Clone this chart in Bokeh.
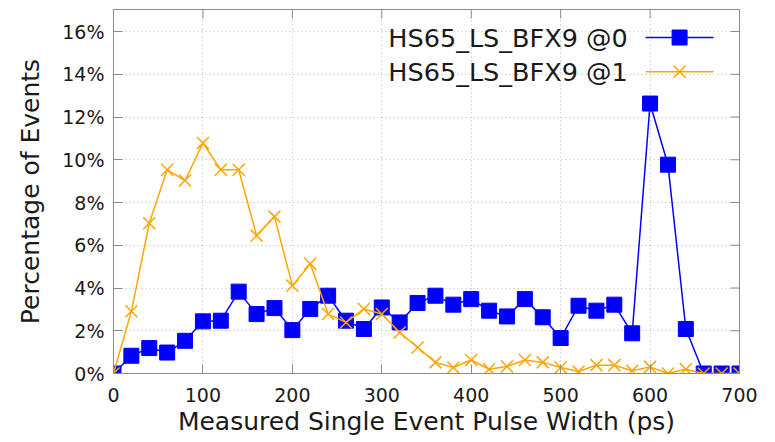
import math
from bokeh.plotting import figure
from bokeh.models import Range1d, FixedTicker, PrintfTickFormatter, Label
from bokeh.embed import file_html
from bokeh.resources import INLINE

# Pulse width bins (ps)
pulse_width = [0, 20, 40, 60, 80, 100, 120, 140, 160, 180, 200, 220, 240, 260, 280,
               300, 320, 340, 360, 380, 400, 420, 440, 460, 480, 500, 520, 540, 560,
               580, 600, 620, 640, 660, 680, 700]

# Percentage of events per bin, input @0
pct_at0 = [0.0, 0.83, 1.19, 0.98, 1.53, 2.44, 2.47, 3.83, 2.78, 3.06, 2.03, 3.02, 3.64,
           2.47, 2.08, 3.09, 2.39, 3.30, 3.64, 3.22, 3.48, 2.94, 2.67, 3.48, 2.63, 1.66,
           3.17, 2.94, 3.22, 1.88, 12.63, 9.77, 2.08, 0.0, 0.0, 0.0]

# Percentage of events per bin, input @1
pct_at1 = [0.0, 2.91, 7.03, 9.53, 9.03, 10.78, 9.53, 9.53, 6.45, 7.34, 4.11, 5.13, 2.78,
           2.39, 3.02, 2.78, 1.92, 1.22, 0.52, 0.28, 0.63, 0.20, 0.33, 0.63, 0.52, 0.28,
           0.09, 0.39, 0.39, 0.13, 0.31, 0.0, 0.20, 0.0, 0.0, 0.0]

series_names = ["HS65_LS_BFX9 @0", "HS65_LS_BFX9 @1"]
x_ticks = [0, 100, 200, 300, 400, 500, 600, 700]
y_ticks = [0, 2, 4, 6, 8, 10, 12, 14, 16]

X_MAX, Y_MAX = 700, 17.03
BLUE = "#0000ff"
ORANGE = "#ffa500"
FONT = "DejaVu Sans"
TEXT = "#1a1a1a"
BORDER = "#8c8c8c"
TICK_LEN = 9

p = figure(width=775, height=442, output_backend="svg", toolbar_location=None,
           x_range=Range1d(0, X_MAX), y_range=Range1d(0, Y_MAX),
           min_border_left=113, min_border_right=36, min_border_top=9,
           min_border_bottom=69)
p.background_fill_color = "white"
p.border_fill_color = "white"
p.outline_line_color = BORDER
p.outline_line_width = 1

# Axes
for ax in (p.xaxis[0], p.yaxis[0]):
    ax.axis_line_color = BORDER
    ax.major_tick_line_color = BORDER
    ax.major_tick_in = TICK_LEN
    ax.major_tick_out = 0
    ax.minor_tick_line_color = None
    ax.major_label_text_font = FONT
    ax.major_label_text_color = TEXT
    ax.major_label_text_font_size = "19px"
    ax.axis_label_text_font = FONT
    ax.axis_label_text_font_style = "normal"
    ax.axis_label_text_color = TEXT
    ax.axis_label_text_font_size = "25px"

p.xaxis.ticker = FixedTicker(ticks=x_ticks)
p.yaxis.ticker = FixedTicker(ticks=y_ticks)
p.yaxis.formatter = PrintfTickFormatter(format="%d%%")
p.xaxis.axis_label = "Measured Single Event Pulse Width (ps)"
p.yaxis.axis_label = "Percentage of Events"
p.xaxis.major_label_standoff = 14
p.yaxis.major_label_standoff = 9
p.xaxis.axis_label_standoff = 2
p.yaxis.axis_label_standoff = 14

# Dotted grid
p.xgrid.ticker = FixedTicker(ticks=x_ticks)
p.ygrid.ticker = FixedTicker(ticks=y_ticks)
for g in (p.xgrid[0], p.ygrid[0]):
    g.grid_line_color = "#b4b4b4"
    g.grid_line_dash = "1 3"
    g.grid_line_width = 1

# Mirrored inward ticks along the top and right edges of the frame
p.ray(x=[X_MAX] * len(y_ticks), y=y_ticks, length=TICK_LEN, length_units="screen",
      angle=math.pi, line_color=BORDER, line_width=1)
p.ray(x=x_ticks, y=[Y_MAX] * len(x_ticks), length=TICK_LEN, length_units="screen",
      angle=-math.pi / 2, line_color=BORDER, line_width=1)

# Series
p.line(pulse_width, pct_at0, line_color=BLUE, line_width=1.5)
p.scatter(pulse_width, pct_at0, marker="square", size=15, fill_color=BLUE,
          line_color=BLUE)
p.line(pulse_width, pct_at1, line_color=ORANGE, line_width=1.5)
p.scatter(pulse_width, pct_at1, marker="x", size=17, line_color=ORANGE, line_width=1.5)

# Key: labels on the left, line sample with marker on the right
key_rows = [15.72, 14.12]
key_x0, key_x1 = 595, 671
key_mid = (key_x0 + key_x1) / 2
for name, yk, col, mk in zip(series_names, key_rows, [BLUE, ORANGE], ["square", "x"]):
    p.line([key_x0, key_x1], [yk, yk], line_color=col, line_width=1.5)
    if mk == "square":
        p.scatter([key_mid], [yk], marker=mk, size=15, fill_color=col, line_color=col)
    else:
        p.scatter([key_mid], [yk], marker=mk, size=17, line_color=col, line_width=1.5)
    p.add_layout(Label(x=key_x0 - 20, y=yk, text=name, text_align="right",
                       text_baseline="middle", text_font=FONT, text_font_size="25.5px",
                       text_color=TEXT))

open("out.html", "w").write(file_html(p, INLINE))
